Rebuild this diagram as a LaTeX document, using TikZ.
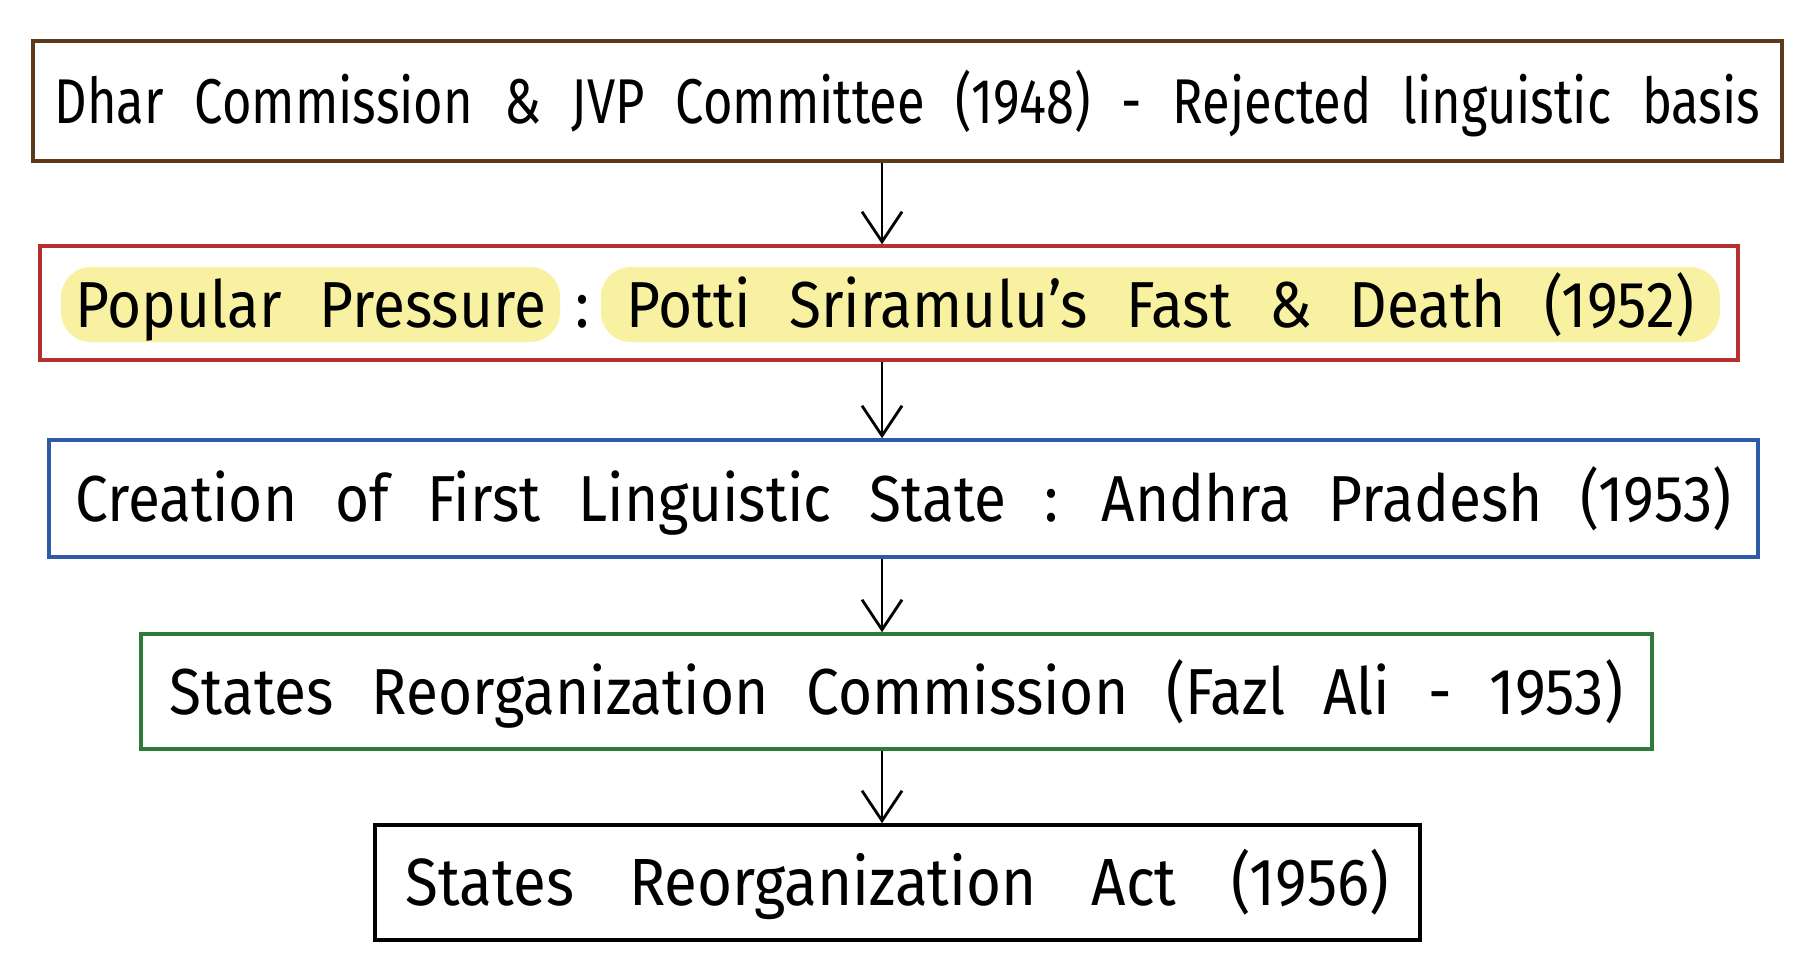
\documentclass[tikz,border=0pt]{standalone}
\usepackage{fontspec}
\setmainfont[FakeStretch=0.8]{Fira Sans}
\newfontfamily\widehand[FakeStretch=0.9]{Fira Sans}
\usetikzlibrary{positioning,arrows.meta}

\definecolor{brownline}{HTML}{5B3A1E}
\definecolor{redline}{HTML}{B5312F}
\definecolor{blueline}{HTML}{2E5AA8}
\definecolor{greenline}{HTML}{2F7A3A}
\definecolor{hilite}{HTML}{F7F1A1}

\begin{document}
\begin{tikzpicture}
  [x=1cm,y=-1cm,
   every node/.style={inner sep=0pt, text height=0.45cm, text depth=0pt},
   narrow/.style={font=\fontsize{18}{20}\selectfont, execute at begin node={\spaceskip=3.1mm\relax}},
   wide/.style={font=\widehand\fontsize{18.5}{20}\selectfont, execute at begin node={\spaceskip=#1\relax}},
   wide/.default=3.8mm,
   stage/.style={rectangle, draw, line width=1pt},
   marker/.style={wide, fill=hilite, rounded corners=0.3cm, minimum height=0.75cm},
   flow/.style={-{Straight Barb[length=3mm,width=4mm]}, line width=0.8pt}]
  \fill[white] (0,0) rectangle (18.1,9.76);
  \useasboundingbox (0,0) rectangle (18.1,9.76);

  \node[stage, narrow, draw=brownline, minimum width=17.49cm, minimum height=1.2cm] (dhar) at (9.075,1.01)
    {Dhar Commission \& JVP Committee (1948) - Rejected linguistic basis};
  \node[stage, draw=redline, minimum width=16.98cm, minimum height=1.14cm] (pressure) at (8.89,3.03) {};
  \node[marker, minimum width=4.99cm] (popular) at (3.105,3.045) {Popular Pressure};
  \node[wide, right=0.14cm of popular] (colon) {:};
  \node[marker, minimum width=11.19cm, right=0.1cm of colon] (potti) {Potti Sriramulu’s Fast \& Death (1952)};
  \node[stage, wide, draw=blueline, minimum width=17.09cm, minimum height=1.17cm] (andhra) at (9.035,4.985)
    {Creation of First Linguistic State : Andhra Pradesh (1953)};
  \node[stage, wide, draw=greenline, minimum width=15.11cm, minimum height=1.15cm] (src) at (8.965,6.915)
    {States Reorganization Commission (Fazl Ali - 1953)};
  \node[stage, wide=5.5mm, font=\widehand\fontsize{19}{21}\selectfont, draw=black, minimum width=10.45cm, minimum height=1.15cm] (act) at (8.975,8.825)
    {States Reorganization Act (1956)};

  \coordinate (axis) at (8.82,0);
  \foreach \from/\to in {dhar/pressure,pressure/andhra,andhra/src,src/act}
    \draw[flow] (\from.south -| axis) -- (\to.north -| axis);

\end{tikzpicture}
\end{document}
